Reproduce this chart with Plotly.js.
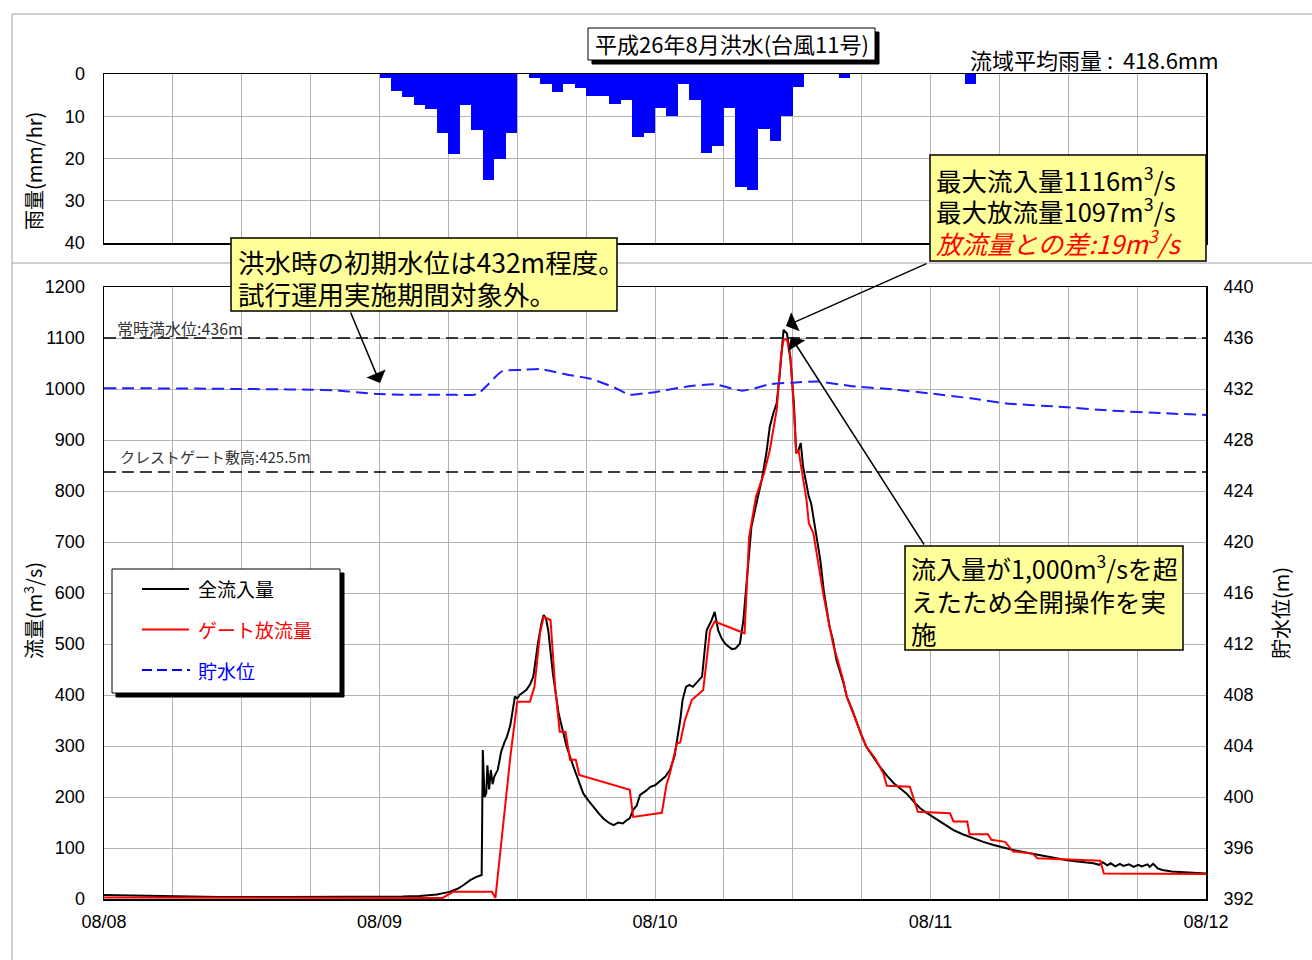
<!DOCTYPE html>
<html><head><meta charset="utf-8">
<script src="https://cdn.plot.ly/plotly-3.0.1.min.js"></script>
<style>html,body{margin:0;padding:0;background:#fff}#chart{width:1312px;height:960px}</style>
</head><body><div id="chart"></div>
<script>
// ---------- data ----------
const dayLabels = ['08/08','08/09','08/10','08/11','08/12'];
const rainValues = [
  0,0,0,0,0,0,0,0,0,0,0,0,0,0,0,0,0,0,0,0,0,0,0,0,
  1,4,5.5,7.3,8.2,14,19,7.3,13.3,25,20,14,
  0,
  1,2.3,4.3,2.4,3.2,5.2,5.2,7.2,6.2,14.9,13.9,
  8.1,10,2.4,6.2,18.8,17,8.1,26.7,27.5,13.1,15.9,10,3.1,
  0,0,0,
  1,
  0,0,0,0,0,0,0,0,0,0,
  2.3,
  0,0,0,0,0,0,0,0,0,0,0,0,0,0,0,0,0,0,0,0
];
const inflowHours = [0,2,4,6,10,16,22,24,26,27.5,29,30.1,30.8,31.3,31.9,32.4,32.9,33.0,33.15,33.3,33.4,33.55,33.7,33.85,34.0,34.3,34.6,34.9,35.1,35.4,35.8,36.0,36.2,36.5,36.8,37.1,37.4,37.8,38.1,38.3,38.5,38.7,39.1,39.6,40.3,40.9,41.3,41.75,42.2,42.6,43.1,43.5,44.0,44.4,44.8,45.2,45.5,45.8,46.1,46.4,46.7,47.2,47.6,48.0,48.4,48.9,49.3,49.7,50.2,50.4,50.7,51.0,51.3,51.7,52.1,52.5,52.9,53.2,53.5,53.8,54.1,54.4,54.7,55.0,55.4,55.7,56.0,56.4,56.9,57.3,57.7,58.0,58.3,58.6,58.9,59.2,59.5,59.8,60.1,60.3,60.5,60.7,60.9,61.4,61.6,62.1,62.4,62.7,63.2,63.5,63.8,64.4,64.7,65.2,65.6,66.0,66.4,67.0,67.6,68.2,68.8,69.4,69.9,70.5,71.1,71.6,72.2,73.0,74.0,74.8,75.7,76.6,77.5,78.3,79.2,80.3,81.5,82.7,83.9,85.0,86.2,86.7,87.0,87.4,87.7,88.1,88.5,88.8,89.3,89.7,90.1,90.4,90.9,91.1,91.4,91.8,92.2,93.0,94.0,95.0,96.0];
const inflowValues = [8,7,6,5,4,4,4,4,5,6,9,14,20,27,37,43,47,292,200,208,262,215,253,225,240,253,289,308,318,341,397,393,400,405,410,420,436,501,540,557,550,527,443,364,299,259,235,207,193,181,168,158,149,145,150,148,154,158,175,183,204,212,220,223,230,240,253,280,351,390,416,420,416,425,436,527,545,563,527,511,501,495,490,491,501,547,632,730,782,822,874,926,952,972,1037,1116,1109,1057,972,874,880,894,848,789,776,710,665,605,534,508,469,425,397,370,344,320,299,278,259,242,227,216,207,192,178,170,161,149,135,127,119,112,106,101,96,91,86,81,76,73,70,67,72,66,70,64,69,65,68,63,67,64,68,63,69,60,57,54,53,52,50,48];
const outflowHours = [0,29.5,30.4,33.8,34.1,35.4,36.0,37.1,37.5,37.98,38.3,38.9,39.3,39.7,40.2,40.6,41.1,41.4,45.8,46.1,48.6,49.0,49.3,49.9,50.2,50.6,51.2,52.2,52.8,53.2,55.8,56.2,56.8,57.5,58.0,58.6,59.0,59.2,59.5,59.8,60.1,60.3,60.5,61.2,61.4,61.8,62.7,63.5,64.4,64.7,65.6,66.4,67.2,67.6,67.9,68.2,70.2,70.9,73.7,74.0,75.2,75.4,77.0,77.3,78.5,79.2,80.9,81.3,83.9,86.8,87.1,96];
const outflowValues = [3,2,14,14,2,279,387,387,416,521,553,547,416,328,328,273,273,243,214,161,169,224,246,305,307,350,390,410,527,544,521,710,789,835,880,959,1070,1097,1097,1063,959,874,880,782,737,717,593,501,429,397,344,299,275,259,246,222,220,171,168,152,152,127,127,116,112,93,89,80,78,75,50,49];
const levelHours = [0,4,8,12,16,18,20,22,24,26,30,32.5,33.5,34.7,36.5,38,39,40.5,42.4,44.5,45.8,47,48,50.7,53.2,55.6,58.1,60,62.2,65,68.7,71.9,75.5,78.6,83.2,87.8,92.5,96];
const levelValues = [432.05,432.05,432.03,432.0,431.97,431.95,431.9,431.75,431.6,431.55,431.55,431.6,432.4,433.4,433.5,433.57,433.4,433.1,432.8,432.1,431.55,431.65,431.75,432.18,432.37,431.87,432.39,432.5,432.58,432.24,431.97,431.66,431.27,430.87,430.61,430.3,430.09,429.96];
const refLevels = [436, 425.5];
const refLabels = ['常時満水位:436m', 'クレストゲート敷高:425.5m'];
const seriesNames = ['全流入量', 'ゲート放流量', '貯水位'];

// ---------- helpers ----------
const HR = 3600e3, T0 = Date.UTC(2014, 7, 8);
const t = h => T0 + h * HR;
const L = 104, R = 1206, TOP = 74, BOT = 899;
const px = X => (X - L) / (R - L);
const py = Y => (BOT - Y) / (BOT - TOP);
const FONT = 'Liberation Sans, Noto Sans CJK JP, sans-serif';
const JFONT = 'Noto Sans CJK JP, Liberation Sans, sans-serif';
const grid = '#b4b4b4';
const NOTICK = 'rgba(0,0,0,0)';

const traces = [
  {type:'bar', x: rainValues.map((v,i)=>t(i+0.5)), y: rainValues, width: HR,
   marker:{color:'#0000FF', line:{width:0}}, xaxis:'x2', yaxis:'y3', showlegend:false, hoverinfo:'skip'},
  {type:'scatter', mode:'lines', x: inflowHours.map(t), y: inflowValues, name: seriesNames[0],
   line:{color:'#000000', width:2}, xaxis:'x', yaxis:'y', showlegend:false},
  {type:'scatter', mode:'lines', x: outflowHours.map(t), y: outflowValues, name: seriesNames[1],
   line:{color:'#FF0000', width:2}, xaxis:'x', yaxis:'y', showlegend:false},
  {type:'scatter', mode:'lines', x: levelHours.map(t), y: levelValues, name: seriesNames[2],
   line:{color:'#2020FF', width:2, dash:'12px,6px', shape:'spline', smoothing:0.6}, xaxis:'x', yaxis:'y2', showlegend:false}
];

const shapes = [];
const ann = [];
function rect(x0,y0,x1,y1,fill,lc,lw){shapes.push({type:'rect',xref:'paper',yref:'paper',x0:px(x0),x1:px(x1),y0:py(y0),y1:py(y1),fillcolor:fill,line:{color:lc,width:lw},layer:'above'});}
function pline(x0,y0,x1,y1,c,w,dash){shapes.push({type:'line',xref:'paper',yref:'paper',x0:px(x0),x1:px(x1),y0:py(y0),y1:py(y1),line:{color:c,width:w,dash:dash||'solid'},layer:'above'});}
function txt(X,Y,text,size,color,xa,extra){ann.push(Object.assign({xref:'paper',yref:'paper',x:px(X),y:py(Y),text:text,showarrow:false,xanchor:xa||'left',yanchor:'middle',align:'left',font:{family:JFONT,size:size,color:color||'#000'}},extra||{}));}
function arrow(x0,y0,x1,y1){ann.push({xref:'paper',yref:'paper',x:px(x1),y:py(y1),ax:x0-x1,ay:y0-y1,text:'',showarrow:true,arrowhead:1,arrowsize:2.3,arrowwidth:1.5,arrowcolor:'#000',standoff:0});}

// outer frame lines
pline(12,14,1312,14,'#a0a0a0',1);
pline(12,14,12,960,'#a0a0a0',1);
pline(12,263,1312,263,'#a0a0a0',1);

// reference dashed lines (drawn on the level axis)
refLevels.forEach(v=>shapes.push({type:'line',xref:'x',yref:'y2',x0:t(0),x1:t(96),y0:v,y1:v,line:{color:'#000',width:1.5,dash:'12px,6px'},layer:'above'}));
txt(115,328,refLabels[0],16,'#333');
txt(118,456,refLabels[1],15,'#333');

// title box
rect(592,32,879,64,'#000','#000',1);
rect(588,28,875,60,'#fff','#000',1);
txt(732,43,'平成26年8月洪水(台風11号)',22,'#000','center');
txt(968,59,'流域平均雨量\u00A0:\u00A0\u00A0418.6mm',22,'#000');

// axis titles
txt(33,171,'雨量(mm/hr)',20,'#000','center',{textangle:-90});
txt(33,611,'流量(m<sup>3</sup>/s)',20,'#000','center',{textangle:-90});
txt(1280,613,'貯水位(m)',20,'#000','center',{textangle:-90});

// legend
rect(116,573,344,697,'#000','#000',1);
rect(112,569,340,693,'#fff','#000',1);
pline(142,589,189,589,'#000',2);
pline(142,629.5,189,629.5,'#FF0000',2);
pline(142,670,190,670,'#0000FF',2,'10px,5px');
txt(196,588,seriesNames[0],19,'#000');
txt(196,629,seriesNames[1],19,'#FF0000');
txt(196,670,seriesNames[2],19,'#0000FF');

// yellow note boxes
const YEL = '#FFFF99';
rect(231,238,617,311,YEL,'#000',1.5);
txt(236,261,'洪水時の初期水位は432m程度。',26.5,'#000');
txt(236,293,'試行運用実施期間対象外。',26.5,'#000');
arrow(350,311,380,383);

rect(930,155,1206,261,YEL,'#000',1.5);
txt(934,178,'最大流入量1116m<sup>3</sup>/s',25.5,'#000');
txt(934,210,'最大放流量1097m<sup>3</sup>/s',25.5,'#000');
txt(934,242,'<i>放流量との差:19m<sup>3</sup>/s</i>',25.5,'#FF0000');
arrow(928,263,786,326);

rect(905,546,1183,650,YEL,'#000',1.5);
txt(909,567,'流入量が1,000m<sup>3</sup>/sを超',25,'#000');
txt(909,600,'えたため全開操作を実',25.5,'#000');
txt(909,632,'施',25.5,'#000');
arrow(925,546,791,337);

const xcommon = {type:'date', range:[t(0),t(96)], dtick:86400000, tick0:t(0), tickformat:'%m/%d',
  showgrid:true, gridcolor:grid, gridwidth:1,
  minor:{dtick:21600000, tick0:t(0), showgrid:true, gridcolor:grid, gridwidth:1, ticks:''},
  showline:true, mirror:true, linecolor:'#000', linewidth:1.5, zeroline:false,
  ticks:'outside', ticklen:6, tickcolor:NOTICK,
  tickfont:{family:FONT,size:18,color:'#000'}, fixedrange:true};

const ycommon = {showline:true, mirror:true, linecolor:'#000', linewidth:1.5, zeroline:false,
  ticks:'outside', ticklen:14, tickcolor:NOTICK, showgrid:true, gridcolor:grid,
  tickfont:{family:FONT,size:18,color:'#000'}};

const layout = {
  width:1312, height:960,
  margin:{l:L, r:1312-R, t:TOP, b:960-BOT, pad:0},
  paper_bgcolor:'#fff', plot_bgcolor:'#fff',
  showlegend:false, bargap:0,
  xaxis: Object.assign({}, xcommon, {domain:[0,1], anchor:'y'}),
  xaxis2: Object.assign({}, xcommon, {domain:[0,1], anchor:'y3', showticklabels:false}),
  yaxis: Object.assign({}, ycommon, {domain:[0, py(287)], range:[0,1200], dtick:100, anchor:'x'}),
  yaxis2: {overlaying:'y', side:'right', range:[392,440], dtick:4, showgrid:false, zeroline:false,
    showline:false, ticks:'outside', ticklen:13, tickcolor:NOTICK,
    tickfont:{family:FONT,size:18,color:'#000'}, anchor:'x'},
  yaxis3: Object.assign({}, ycommon, {domain:[py(243), 1], range:[40,0], dtick:10, anchor:'x2'}),
  shapes: shapes,
  annotations: ann,
  font:{family:FONT, color:'#000'}
};

Plotly.newPlot('chart', traces, layout, {staticPlot:true, displayModeBar:false});
</script>
</body></html>
